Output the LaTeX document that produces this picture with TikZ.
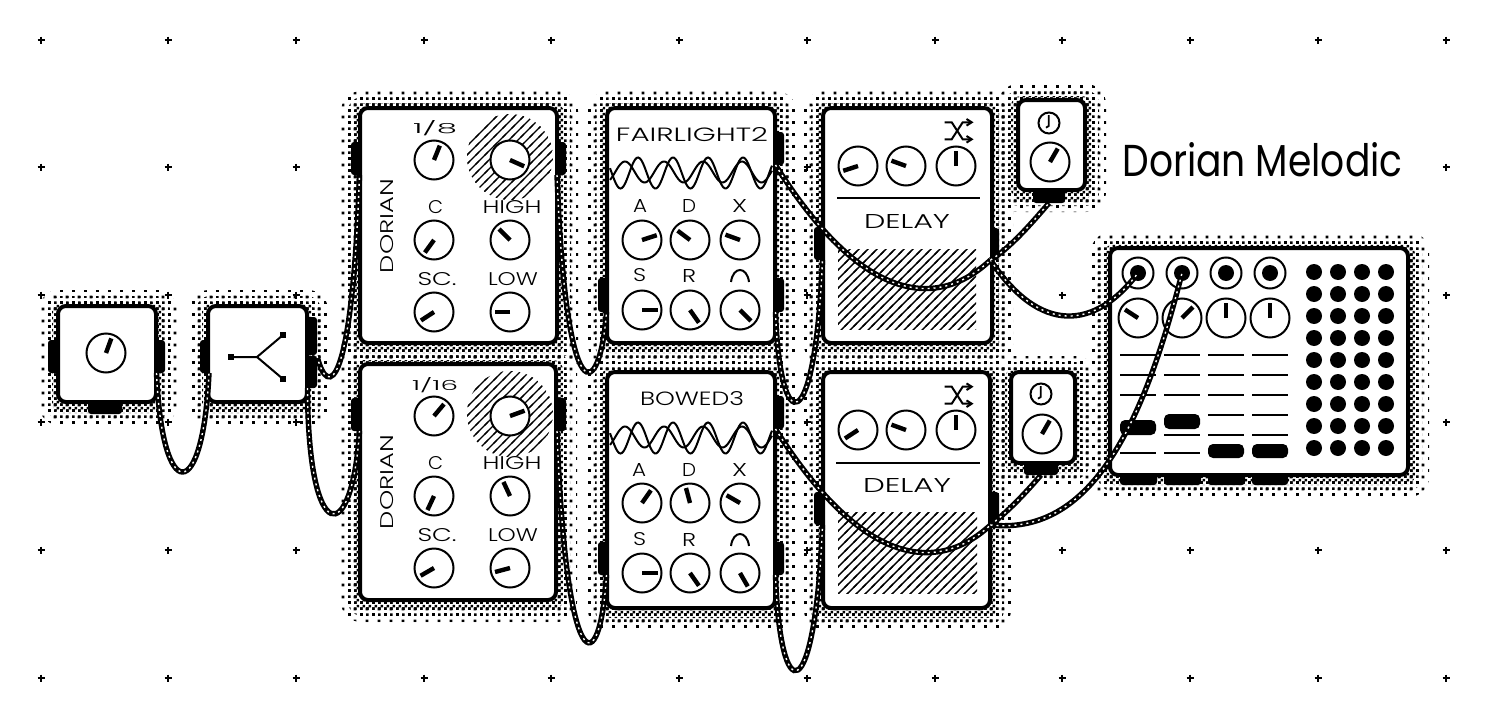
\documentclass[tikz,border=0pt]{standalone}
\usepackage{graphicx}
\usepackage{fontspec}
\newfontfamily\labfont{Poppins Light}
\newfontfamily\titlefont{Poppins}
\usetikzlibrary{patterns}
% halftone patterns (1 image pixel = 0.5bp, 1 screen dot = 1.5bp)
\pgfdeclarepatternformonly{shsparse}{\pgfpointorigin}{\pgfpoint{6bp}{6bp}}{\pgfpoint{6bp}{6bp}}{%
  \pgfpathrectangle{\pgfpoint{0bp}{0bp}}{\pgfpoint{1.5bp}{1.5bp}}%
  \pgfpathrectangle{\pgfpoint{3bp}{3bp}}{\pgfpoint{1.5bp}{1.5bp}}%
  \pgfusepath{fill}}
\pgfdeclarepatternformonly{shmedium}{\pgfpointorigin}{\pgfpoint{3bp}{3bp}}{\pgfpoint{3bp}{3bp}}{%
  \pgfpathrectangle{\pgfpoint{0bp}{0bp}}{\pgfpoint{1.5bp}{1.5bp}}%
  \pgfusepath{fill}}
\pgfdeclarepatternformonly{shdense}{\pgfpointorigin}{\pgfpoint{3bp}{3bp}}{\pgfpoint{3bp}{3bp}}{%
  \pgfpathrectangle{\pgfpoint{0bp}{0bp}}{\pgfpoint{1.5bp}{1.5bp}}%
  \pgfpathrectangle{\pgfpoint{1.5bp}{1.5bp}}{\pgfpoint{1.5bp}{1.5bp}}%
  \pgfusepath{fill}}
\pgfdeclarepatternformonly{hatchfill}{\pgfpoint{-1bp}{-1bp}}{\pgfpoint{5.5bp}{5.5bp}}{\pgfpoint{4.5bp}{4.5bp}}{%
  \pgfsetlinewidth{0.7bp}%
  \pgfpathmoveto{\pgfpoint{-1bp}{-1bp}}\pgfpathlineto{\pgfpoint{5.5bp}{5.5bp}}%
  \pgfusepath{stroke}}
\tikzset{
  panel/.style={draw=black,fill=white,line width=2bp,rounded corners=4bp,inner sep=0pt,outer sep=0pt},
  tabjack/.style={fill=black,rounded corners=1.5bp,inner sep=0pt,outer sep=0pt},
  knobdial/.style={circle,draw=black,fill=white,line width=1bp,minimum size=19.5bp,inner sep=0pt,outer sep=0pt},
  needle/.style={line width=2.2bp,black},
  thin line/.style={line width=1bp,black},
  rope/.style={line width=2.7bp,black},
  ropehole/.style={line width=0.7bp,white,dash pattern=on 1bp off 2bp},
  lab/.style={inner sep=0pt,outer sep=0pt},
  blob/.style={circle,fill=black,minimum size=8bp,inner sep=0pt,outer sep=0pt},
  tick/.style={line width=1.2bp,black},
}
\newcommand\MShade[4]{%
  \fill[pattern=shsparse,rounded corners=10bp] (#1-19,#2-16) rectangle (#3+21,#4+22);
  \fill[pattern=shmedium,rounded corners=7bp] (#1-12,#2-10) rectangle (#3+14,#4+16);
  \fill[pattern=shdense,rounded corners=5bp] (#1-6,#2-4) rectangle (#3+7,#4+10);
}
\newcommand\MPanel[5]{%
  \node[panel,minimum width={(#4-#2)*0.5bp},minimum height={(#5-#3)*0.5bp}] (#1) at ({(#2+#4)/2},{(#3+#5)/2}) {};
}
\newcommand\MTab[5]{%
  \node[tabjack,minimum width={(#4-#2)*0.5bp},minimum height={(#5-#3)*0.5bp}] (#1) at ({(#2+#4)/2},{(#3+#5)/2}) {};
}
\newcommand\MKnob[4]{%
  \node[knobdial] (#1) at (#2,#3) {};
  \draw[needle] (#1.center) -- ++({15.5*sin(#4)},{-15.5*cos(#4)});
}
\newcommand\MLab[6]{%
  \node[lab] (#1) at (#2,#3) {\resizebox{\dimexpr #4bp/2\relax}{\dimexpr #5bp/2\relax}{\labfont #6}};
}
\newcommand\MRope[1]{%
  \draw[rope] #1;
  \draw[ropehole] #1;
}
\newcommand\MShuffle[1]{%
  \begin{scope}[yshift=#1]
  \draw[thin line] (944.7,122.3) -- (951.7,122.3) -- (962.7,139.3) -- (971,139.3);
  \draw[thin line] (944.7,139.3) -- (951.7,139.3) -- (962.7,122.3) -- (971,122.3);
  \draw[thin line] (966.5,119) -- (971.7,122.3) -- (966.5,125.6);
  \draw[thin line] (966.5,136) -- (971.7,139.3) -- (966.5,142.6);
  \end{scope}
}
\newcommand\MWave[1]{%
  \draw[thin line] plot[domain=610:772,samples=110,smooth] (\x,{#1+173-15.5*cos((\x-638)/35*360)});
  \draw[thin line] plot[domain=610:772,samples=110,smooth] (\x,{#1+172-10.5*cos((\x-625)/39*360)});
}
\begin{document}
\begin{tikzpicture}[x=0.5bp,y=-0.5bp]
\useasboundingbox (0,0) rectangle (1506,712);
\fill[white] (0,0) rectangle (1506,712);
% halftone shadows
\MShade{58}{306}{156}{403}
\MShade{208}{306}{307}{403}
\MShade{360}{107}{557}{343}
\MShade{360}{364}{556}{600}
\MShade{607}{107}{775}{343}
\MShade{607}{372}{775}{608}
\MShade{823}{107}{992}{343}
\MShade{823}{372}{990}{608}
\MShade{1017}{100}{1085}{190}
\MShade{1011}{372}{1075}{463}
\MShade{1110}{248}{1408}{475}
% grid ticks
\foreach \gx in {41,168,296,424,551,679,807,935,1062,1190,1318,1446}
  \foreach \gy in {40,167,295,422,550,678} {
    \draw[tick] (\gx-3.5,\gy) -- (\gx+3.5,\gy);
    \draw[tick] (\gx,\gy-3.5) -- (\gx,\gy+3.5);
  }
% jacks
\MTab{aL}{48}{340}{66}{373}
\MTab{aR}{148}{340}{165}{373}
\MTab{aB}{88}{395}{122}{414}
\MTab{bL}{200}{340}{218}{373}
\MTab{bRt}{298}{317}{317}{355}
\MTab{bRb}{298}{356}{317}{388}
\MTab{cL}{351}{142}{368}{175}
\MTab{cR}{548}{142}{566}{175}
\MTab{dL}{351}{398}{368}{431}
\MTab{dR}{548}{398}{566}{431}
\MTab{eRt}{767}{132}{784}{165}
\MTab{eL}{598}{278}{615}{312}
\MTab{eRb}{767}{278}{784}{312}
\MTab{fRt}{767}{396}{784}{429}
\MTab{fL}{598}{542}{615}{575}
\MTab{fRb}{767}{542}{784}{575}
\MTab{gL}{814}{227}{831}{260}
\MTab{gR}{982}{228}{999}{260}
\MTab{hL}{814}{492}{831}{525}
\MTab{hR}{982}{492}{999}{525}
\MTab{iB}{1033}{182}{1065}{203}
\MTab{jB}{1024}{455}{1058}{475}
\MTab{kB1}{1120}{467}{1157}{485}
\MTab{kB2}{1164}{467}{1201}{485}
\MTab{kB3}{1208}{467}{1245}{485}
\MTab{kB4}{1252}{467}{1288}{485}
% module bodies
\MPanel{modA}{58}{306}{156}{402}
\MPanel{modB}{208}{306}{307}{402}
\MPanel{dorA}{360}{108}{557}{343}
\MPanel{dorB}{360}{364}{556}{600}
\MPanel{fair}{607}{108}{775}{343}
\MPanel{bowd}{607}{372}{775}{608}
\MPanel{delA}{823}{108}{992}{343}
\MPanel{delB}{823}{372}{990}{608}
\MPanel{clkA}{1018}{100}{1085}{190}
\MPanel{clkB}{1011}{372}{1075}{463}
\MPanel{mat}{1110}{248}{1408}{475}
% module A, B
\MKnob{ka}{106}{353}{20}
\draw[thin line] (231,357) -- (257,357) -- (283,335);
\draw[thin line] (257,357) -- (283,379);
\fill (228,354) rectangle (234,360);
\fill (280,332) rectangle (286,338);
\fill (280,376) rectangle (286,382);
% Dorian upper
\fill[pattern=hatchfill] (510,157) circle (43);
\MKnob{d1a}{434}{160}{22}
\MKnob{d1b}{510}{160}{114}
\MKnob{d1c}{434}{240}{216}
\MKnob{d1d}{510}{240}{315}
\MKnob{d1e}{434}{312}{237}
\MKnob{d1f}{510}{312}{270}
\MLab{t1}{435}{128.5}{44}{13}{1/8}
\MLab{t2}{435.5}{207}{15}{13}{C}
\MLab{t3}{512}{207}{59}{13}{HIGH}
\MLab{t4}{437}{279}{39}{13}{SC.}
\MLab{t5}{513}{279}{50}{13}{LOW}
\node[lab,rotate=90] (t6) at (387,226) {\resizebox{47bp}{6.5bp}{\labfont DORIAN}};
% Dorian lower
\fill[pattern=hatchfill] (510,414) circle (43);
\MKnob{d2a}{434}{416}{40}
\MKnob{d2b}{510}{416}{70}
\MKnob{d2c}{434}{496}{205}
\MKnob{d2d}{510}{496}{335}
\MKnob{d2e}{434}{568}{240}
\MKnob{d2f}{510}{568}{255}
\MLab{t7}{435}{385}{46}{13}{1/16}
\MLab{t8}{435.5}{463}{15}{13}{C}
\MLab{t9}{512}{463}{59}{13}{HIGH}
\MLab{t10}{437}{535}{39}{13}{SC.}
\MLab{t11}{513}{535}{50}{13}{LOW}
\node[lab,rotate=90] (t12) at (387,482) {\resizebox{47bp}{6.5bp}{\labfont DORIAN}};
% Fairlight
\MWave{0}
\MLab{t13}{692}{135}{152}{14}{FAIRLIGHT2}
\MLab{t14}{640}{205.5}{14}{13}{A}
\MLab{t15}{689}{205.5}{14}{13}{D}
\MLab{t16}{739.5}{205.5}{15}{13}{X}
\MLab{t17}{639.5}{275.5}{13}{13}{S}
\MLab{t18}{689}{275.5}{14}{13}{R}
\draw[thin line] (731,282) .. controls (733,266) and (747,266) .. (749,282);
\MKnob{f1a}{642}{240}{72}
\MKnob{f1b}{690}{240}{307}
\MKnob{f1c}{740}{240}{290}
\MKnob{f1d}{642}{310}{90}
\MKnob{f1e}{690}{310}{145}
\MKnob{f1f}{740}{310}{135}
% Bowed
\MWave{265}
\MLab{t19}{692}{399}{104}{14}{BOWED3}
\MLab{t20}{639}{469.5}{14}{13}{A}
\MLab{t21}{689}{469.5}{14}{13}{D}
\MLab{t22}{739.5}{469.5}{15}{13}{X}
\MLab{t23}{639.5}{539.5}{13}{13}{S}
\MLab{t24}{689}{539.5}{14}{13}{R}
\draw[thin line] (731,546) .. controls (733,530) and (747,530) .. (749,546);
\MKnob{f2a}{642}{503}{35}
\MKnob{f2b}{690}{503}{345}
\MKnob{f2c}{740}{503}{300}
\MKnob{f2d}{642}{573}{90}
\MKnob{f2e}{690}{573}{145}
\MKnob{f2f}{740}{573}{150}
% Delay upper
\MShuffle{0bp}
\MKnob{g1a}{858}{166}{252}
\MKnob{g1b}{906}{166}{290}
\MKnob{g1c}{956}{166}{0}
\draw[thin line] (837,198) -- (980,198);
\MLab{t25}{907}{221}{86}{14}{DELAY}
\fill[pattern=hatchfill] (838,249) rectangle (976,329);
% Delay lower
\MShuffle{-132.2bp}
\MKnob{g2a}{858}{430}{237}
\MKnob{g2b}{906}{430}{290}
\MKnob{g2c}{956}{430}{0}
\draw[thin line] (836,463) -- (980,463);
\MLab{t26}{907}{485}{88}{14}{DELAY}
\fill[pattern=hatchfill] (838,512) rectangle (977,593);
% clocks
\node[knobdial,minimum size=10.5bp] (c1s) at (1049,123) {};
\draw[line width=0.9bp] (1048.7,115) -- (1048.7,126) -- (1046,127.7);
\MKnob{c1k}{1050}{162}{30}
\node[knobdial,minimum size=10.5bp] (c2s) at (1041,394) {};
\draw[line width=0.9bp] (1040.7,386) -- (1040.7,397) -- (1038,398.7);
\MKnob{c2k}{1042}{434}{30}
% matrix
\foreach \i/\mx in {1/1138,2/1182,3/1226,4/1270} {
  \node[knobdial,minimum size=15.5bp] (mo\i) at (\mx,273) {};
  \node[blob] (mj\i) at (\mx,273) {};
}
\MKnob{mk1}{1138}{318}{303}
\MKnob{mk2}{1182}{318}{45}
\MKnob{mk3}{1226}{318}{0}
\MKnob{mk4}{1270}{318}{0}
\foreach \xa/\xb in {1120/1156,1164/1200,1208/1244,1252/1288}
  \foreach \ly in {355,375,395}
    \draw[thin line] (\xa,\ly) -- (\xb,\ly);
\draw[thin line] (1120,453) -- (1156,453);
\draw[thin line] (1164,435) -- (1200,435);
\draw[thin line] (1164,453) -- (1200,453);
\foreach \xa/\xb in {1208/1244,1252/1288}
  \foreach \ly in {415,435}
    \draw[thin line] (\xa,\ly) -- (\xb,\ly);
\fill[rounded corners=2.5bp] (1120,420) rectangle (1156,435);
\fill[rounded corners=2.5bp] (1164,414) rectangle (1200,429);
\fill[rounded corners=2.5bp] (1208,444) rectangle (1244,458);
\fill[rounded corners=2.5bp] (1252,444) rectangle (1288,458);
\foreach \dx in {1314,1338,1362,1386}
  \foreach \dy in {272,294,316,338,360,382,404,426,448}
    \node[blob] (p\dx-\dy) at (\dx,\dy) {};
% cables
\MRope{(aR.south) .. controls (162,505) and (203,505) .. (bL.south)}
\MRope{(bRb.north east) .. controls (328,400) and (352,390) .. (cL.south)}
\MRope{(bRb.south) .. controls (308,548) and (352,548) .. (dL.south)}
\MRope{(cR.south) .. controls (566,420) and (600,400) .. (eL.south)}
\MRope{(dR.south) .. controls (566,682) and (600,682) .. (fL.south)}
\MRope{(eRb.south) .. controls (780,440) and (815,440) .. (gL.south)}
\MRope{(fRb.south) .. controls (780,710) and (815,710) .. (hL.south)}
\MRope{(eRt.south) .. controls (860,300) and (935,312) .. (gR.south)}
\MRope{(fRt.south) .. controls (860,563) and (935,576) .. (hR.south)}
\MRope{(gR.south) .. controls (1040,335) and (1095,330) .. (mj1.center)}
\MRope{(gR.south) .. controls (1010,248) and (1030,225) .. (iB.south)}
\MRope{(hR.south) .. controls (1010,510) and (1028,490) .. (jB.south)}
\MRope{(hR.south) .. controls (1085,535) and (1140,440) .. (mj2.center)}
% title
\node[lab,fill=white] (title) at (1262.5,160) {\resizebox{140bp}{17bp}{\titlefont Dorian Melodic}};
\end{tikzpicture}
\end{document}
